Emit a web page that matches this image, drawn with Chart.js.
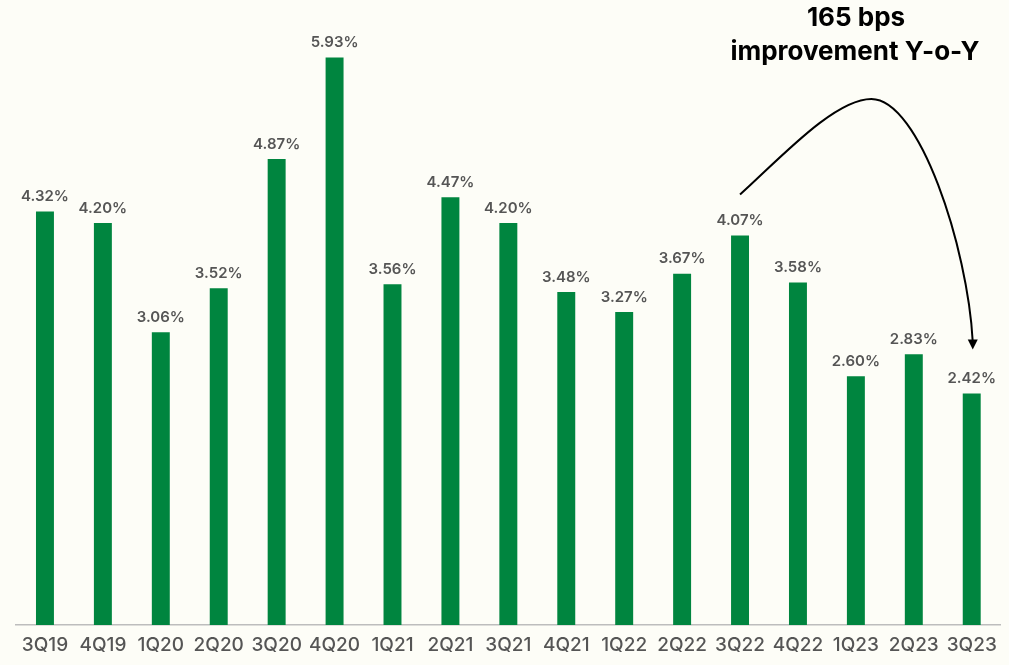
<!DOCTYPE html>
<html>
<head>
<meta charset="utf-8">
<script src="https://cdn.jsdelivr.net/npm/chart.js@4.4.1/dist/chart.umd.min.js"></script>
<style>
  html, body { margin: 0; padding: 0; background: #fdfdf7; }
  #wrap { width: 1009px; height: 665px; position: relative; }
</style>
</head>
<body>
<div id="wrap"><canvas id="npaChart"></canvas></div>
<script>
// quarterly ratio, in percent
const quarters = ['3Q19', '4Q19', '1Q20', '2Q20', '3Q20', '4Q20', '1Q21', '2Q21', '3Q21',
                  '4Q21', '1Q22', '2Q22', '3Q22', '4Q22', '1Q23', '2Q23', '3Q23'];
const ratios = [4.32, 4.20, 3.06, 3.52, 4.87, 5.93, 3.56, 4.47, 4.20,
                3.48, 3.27, 3.67, 4.07, 3.58, 2.60, 2.83, 2.42];
const calloutLines = ['165 bps', 'improvement Y-o-Y'];
const calloutFrom = 12;   // 3Q22
const calloutTo = 16;     // 3Q23

const FONT = 'Inter, "Open Sans", sans-serif';
const GREEN = '#00853f';
const LABEL_GREY = '#555555';

// percent labels sitting above each bar
const barValueLabels = {
  id: 'barValueLabels',
  afterDatasetsDraw(chart) {
    const ctx = chart.ctx;
    const meta = chart.getDatasetMeta(0);
    ctx.save();
    ctx.font = '600 15px ' + FONT;
    ctx.fillStyle = LABEL_GREY;
    ctx.textAlign = 'center';
    ctx.textBaseline = 'middle';
    meta.data.forEach((bar, i) => {
      ctx.fillText(ratios[i].toFixed(2) + '%', bar.x, bar.y - 15);
    });
    ctx.restore();
  }
};

// curved arrow from 3Q22 to 3Q23 with the caption above it
const yoyCallout = {
  id: 'yoyCallout',
  afterDraw(chart) {
    const ctx = chart.ctx;
    const x = chart.scales.x, y = chart.scales.y;
    const x0 = x.getPixelForValue(calloutFrom);
    const y0 = y.getPixelForValue(ratios[calloutFrom]) - 41;
    const x1 = x.getPixelForValue(calloutTo) + 1;
    const y1 = y.getPixelForValue(ratios[calloutTo]) - 44;
    const px = (x0 + x1) / 2 + 15;
    const py = 99;

    ctx.save();
    ctx.strokeStyle = '#000';
    ctx.fillStyle = '#000';
    ctx.lineWidth = 2;
    ctx.beginPath();
    ctx.moveTo(x0, y0);
    ctx.bezierCurveTo(x0 + 40, y0 - 36, px - 37, py, px, py);
    ctx.bezierCurveTo(px + 48, py, x1 - 5, y1 - 102, x1, y1 - 8);
    ctx.stroke();
    // arrow head
    ctx.beginPath();
    ctx.moveTo(x1, y1);
    ctx.lineTo(x1 - 5, y1 - 10);
    ctx.lineTo(x1 + 5, y1 - 10);
    ctx.closePath();
    ctx.fill();

    ctx.font = '700 26px ' + FONT;
    ctx.textAlign = 'center';
    ctx.textBaseline = 'middle';
    ctx.fillText(calloutLines[0], 856, 18);
    ctx.fillText(calloutLines[1], 855, 52);
    ctx.restore();
  }
};

new Chart(document.getElementById('npaChart'), {
  type: 'bar',
  data: {
    labels: quarters,
    datasets: [{
      data: ratios,
      backgroundColor: GREEN,
      borderWidth: 0,
      categoryPercentage: 1,
      barPercentage: 0.31
    }]
  },
  options: {
    responsive: true,
    maintainAspectRatio: false,
    animation: false,
    layout: { padding: { left: 16, right: 7, top: 3, bottom: 0 } },
    plugins: { legend: { display: false }, tooltip: { enabled: false } },
    scales: {
      x: {
        grid: { display: false, drawTicks: false },
        border: { display: true, color: '#bdbdbd', width: 1.5 },
        ticks: {
          color: LABEL_GREY,
          padding: 12,
          maxRotation: 0,
          autoSkip: false,
          font: { family: FONT, size: 19, weight: '500', lineHeight: 0.84 }
        }
      },
      y: {
        display: false,
        min: 0,
        max: 6.5
      }
    }
  },
  plugins: [barValueLabels, yoyCallout]
});
</script>
</body>
</html>
